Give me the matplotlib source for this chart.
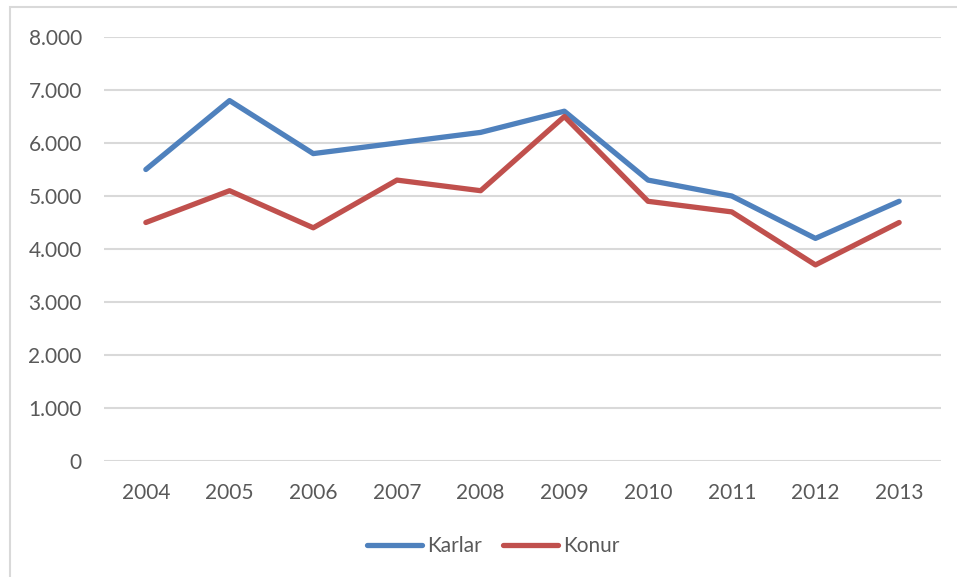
import matplotlib
matplotlib.use("Agg")
import matplotlib.pyplot as plt
from matplotlib.ticker import FuncFormatter, MultipleLocator
from matplotlib.patches import Rectangle

years = ["2004", "2005", "2006", "2007", "2008", "2009", "2010", "2011", "2012", "2013"]
karlar = [5500, 6800, 5800, 6000, 6200, 6600, 5300, 5000, 4200, 4900]
konur = [4500, 5100, 4400, 5300, 5100, 6500, 4900, 4700, 3700, 4500]

plt.rcParams['font.family'] = ['Lato', 'DejaVu Sans']
W, H = 957, 577
fig = plt.figure(figsize=(W / 100, H / 100), dpi=100)
fig.patch.set_facecolor("white")

# outer chart frame
fig.patches.append(Rectangle((10 / W, -0.05), 1.1, 1 - 7 / H + 0.05, transform=fig.transFigure,
                             fill=False, edgecolor="#D9D9D9", linewidth=1.5))

ax = fig.add_axes([104 / W, 1 - 461 / H, (941 - 104) / W, (461 - 37) / H])
x = list(range(len(years)))
ax.plot(x, karlar, color="#4F81BD", lw=3.8, solid_capstyle="round", solid_joinstyle="round", label="Karlar", zorder=3)
ax.plot(x, konur, color="#C0504D", lw=3.8, solid_capstyle="round", solid_joinstyle="round", label="Konur", zorder=3)

ax.set_xlim(-0.5, len(years) - 0.5)
ax.set_ylim(0, 8000)
ax.yaxis.set_major_locator(MultipleLocator(1000))
ax.yaxis.set_major_formatter(FuncFormatter(lambda v, p: f"{int(v):,}".replace(",", ".")))
ax.set_xticks(x)
ax.set_xticklabels(years)
ax.grid(axis="y", color="#D9D9D9", linewidth=1.5, zorder=0)
ax.set_axisbelow(True)
for s in ax.spines.values():
    s.set_visible(False)
ax.tick_params(axis="both", length=0, labelsize=15, labelcolor="#595959")
ax.tick_params(axis="y", pad=16)
ax.tick_params(axis="x", pad=16)

fig.legend(loc="center", bbox_to_anchor=(493 / W, 1 - 546 / H), ncol=2, frameon=False,
           fontsize=15, handlelength=2.64, handletextpad=0.25, columnspacing=1.0,
           labelcolor="#595959")

fig.savefig("out.png", dpi=100, facecolor="white")
